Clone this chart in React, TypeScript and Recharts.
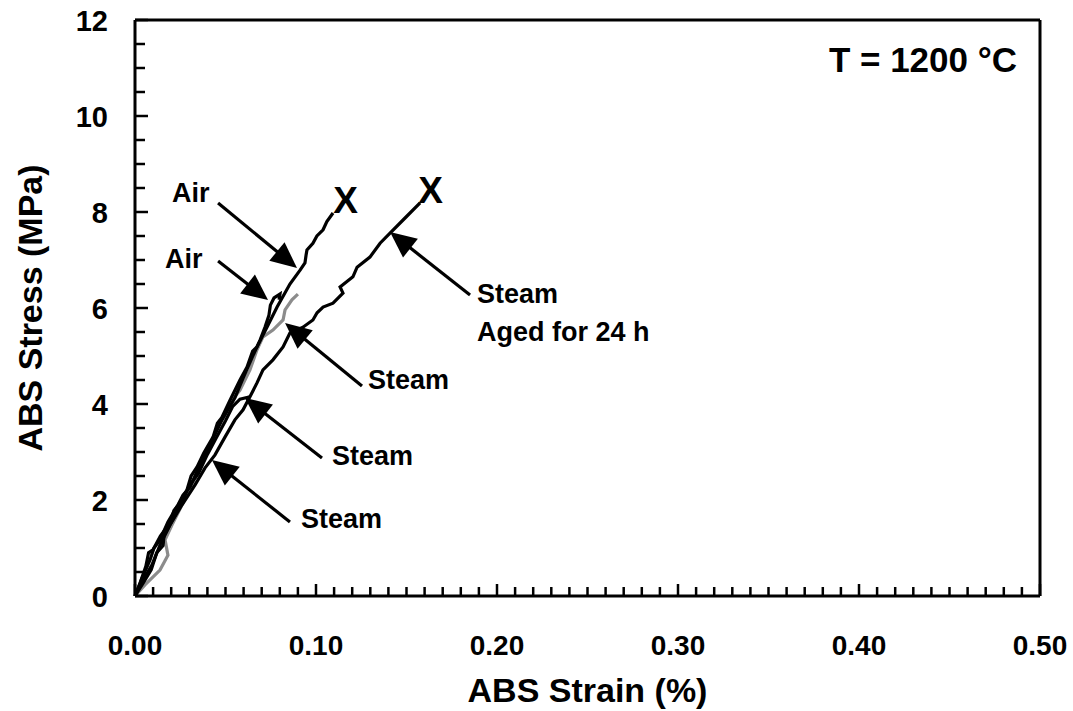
import React from 'react';
import { LineChart, Line, XAxis, YAxis, ReferenceLine, ReferenceDot } from 'recharts';

// Stress–strain curves, [strain (%), stress (MPa)]
const airA: number[][] = [
  [0, 0], [0.0028, 0.27], [0.006, 0.62], [0.0075, 0.9], [0.0099, 0.96], [0.014, 1.25], [0.0193, 1.52],
  [0.0215, 1.78], [0.024, 1.9], [0.0287, 2.21], [0.031, 2.5], [0.0343, 2.69], [0.038, 2.98], [0.0431, 3.31],
  [0.0455, 3.6], [0.048, 3.72], [0.0525, 4.08], [0.058, 4.5], [0.0619, 4.77], [0.065, 5.1], [0.0674, 5.19],
  [0.0729, 5.6], [0.0785, 6.02], [0.0856, 6.5], [0.0912, 6.79], [0.0939, 6.94], [0.0945, 7.1],
  [0.095, 7.21], [0.0983, 7.35], [0.1005, 7.5], [0.1039, 7.63], [0.106, 7.8], [0.1094, 7.98],
];

const airB: number[][] = [
  [0, 0], [0.0039, 0.375], [0.0083, 0.75], [0.0105, 1.0], [0.0138, 1.17], [0.0182, 1.54], [0.0238, 1.9],
  [0.0265, 2.1], [0.0304, 2.27], [0.0359, 2.73], [0.0414, 3.15], [0.0481, 3.67], [0.0552, 4.13],
  [0.0597, 4.54], [0.0646, 4.96], [0.0691, 5.33], [0.0718, 5.6], [0.074, 5.85], [0.0748, 6.06],
  [0.0768, 6.21], [0.0801, 6.29], [0.0796, 6.17],
];

const steamGray: number[][] = [
  [0, 0], [0.0055, 0.23], [0.0138, 0.54], [0.0182, 0.85], [0.0166, 1.17], [0.0204, 1.48],
  [0.026, 1.9], [0.0315, 2.31], [0.0376, 2.83], [0.0431, 3.29], [0.0481, 3.71], [0.0536, 4.08],
  [0.058, 4.29], [0.0635, 4.71], [0.0674, 5.13], [0.0707, 5.4], [0.0762, 5.54], [0.0818, 5.75],
  [0.0829, 5.96], [0.0867, 6.17], [0.09, 6.29],
];

const steamBlack: number[][] = [
  [0, 0], [0.005, 0.3], [0.009, 0.55], [0.012, 0.9], [0.0155, 1.05], [0.016, 1.25], [0.021, 1.6],
  [0.026, 1.95], [0.03, 2.3], [0.035, 2.55], [0.04, 2.95], [0.045, 3.3], [0.05, 3.65],
  [0.054, 3.95], [0.058, 4.1], [0.0635, 4.15],
];

const steamAged: number[][] = [
  [0, 0], [0.0044, 0.33], [0.0094, 0.65], [0.0138, 1.06], [0.0193, 1.48], [0.026, 1.9],
  [0.0331, 2.31], [0.0387, 2.67], [0.0442, 2.94], [0.0497, 3.31], [0.0552, 3.67], [0.0597, 3.88],
  [0.0635, 4.15], [0.0674, 4.44], [0.0707, 4.71], [0.0762, 4.92], [0.0818, 5.19], [0.0856, 5.48],
  [0.0928, 5.6], [0.0983, 5.75], [0.1006, 5.9], [0.1039, 6.02], [0.1094, 6.1], [0.1149, 6.31],
  [0.1133, 6.44], [0.1204, 6.65], [0.1227, 6.85], [0.1298, 7.06], [0.1354, 7.35], [0.1409, 7.56],
  [0.1492, 7.875], [0.1575, 8.19],
];

// Failure markers
const failures: number[][] = [
  [0.1163, 8.25],
  [0.1633, 8.458],
];

// Annotation texts: [strain, stress, text]
const notes: [number, number, string][] = [
  [0.0204, 8.208, 'Air'],
  [0.0166, 6.833, 'Air'],
  [0.1287, 4.3125, 'Steam'],
  [0.1088, 2.729, 'Steam'],
  [0.0917, 1.417, 'Steam'],
  [0.189, 6.104, 'Steam'],
  [0.189, 5.3125, 'Aged for 24 h'],
];

// Arrows: [fromStrain, fromStress, tipStrain, tipStress]
const arrows: number[][] = [
  [0.0459, 8.1875, 0.0895, 6.833],
  [0.0459, 6.979, 0.0735, 6.167],
  [0.1254, 4.375, 0.0829, 5.6875],
  [0.1033, 2.875, 0.0608, 4.125],
  [0.0856, 1.542, 0.0425, 2.833],
  [0.1851, 6.271, 0.1409, 7.583],
];

const temperatureNote = { x: 0.4873, y: 10.917, text: 'T = 1200 °C' };

const xTicks: number[] = Array.from({ length: 51 }, (_, i) => i / 100);
const yTicks: number[] = Array.from({ length: 25 }, (_, i) => i / 2);

const FONT = '"Liberation Sans", Arial, Helvetica, sans-serif';

const toPts = (arr: number[][]) => arr.map(([x, y]) => ({ x, y }));

const XTick = (props: any) => {
  const { x, y, payload } = props;
  const v = payload.value as number;
  const major = Math.round(v * 100) % 10 === 0;
  return (
    <g>
      <line x1={x} x2={x} y1={y} y2={y - (major ? 12 : 9)} stroke="#000" strokeWidth={2.5} />
      {major && (
        <text x={x} y={y + 59} textAnchor="middle" fontFamily={FONT} fontWeight="bold" fontSize={28} fill="#000">
          {v.toFixed(2)}
        </text>
      )}
    </g>
  );
};

const YTick = (props: any) => {
  const { x, y, payload } = props;
  const v = payload.value as number;
  const major = Math.round(v * 2) % 4 === 0;
  return (
    <g>
      <line x1={x} x2={x + (major ? 13 : 10)} y1={y} y2={y} stroke="#000" strokeWidth={2.5} />
      {major && (
        <text x={x - 27} y={y + 11} textAnchor="end" fontFamily={FONT} fontWeight="bold" fontSize={29} fill="#000">
          {v}
        </text>
      )}
    </g>
  );
};

const Arrow = (props: any) => {
  const { x1, y1, x2, y2 } = props;
  const dx = x2 - x1;
  const dy = y2 - y1;
  const len = Math.sqrt(dx * dx + dy * dy) || 1;
  const ux = dx / len;
  const uy = dy / len;
  const headLen = 26;
  const halfW = 12;
  const bx = x2 - ux * headLen;
  const by = y2 - uy * headLen;
  const px = -uy;
  const py = ux;
  return (
    <g>
      <line x1={x1} y1={y1} x2={bx + ux * 2} y2={by + uy * 2} stroke="#000" strokeWidth={3.2} />
      <polygon
        points={`${x2},${y2} ${bx + px * halfW},${by + py * halfW} ${bx - px * halfW},${by - py * halfW}`}
        fill="#000"
      />
    </g>
  );
};

const CURVE_W = 3.2;

export default function App() {
  return (
    <div style={{ position: 'absolute', left: 0, top: 0, background: '#fff' }}>
      <LineChart width={1073} height={711} margin={{ top: 20, right: 33, bottom: 0, left: 0 }}>
        <XAxis
          type="number"
          dataKey="x"
          domain={[0, 0.5]}
          ticks={xTicks}
          interval={0}
          tick={<XTick />}
          tickLine={false}
          tickSize={0}
          tickMargin={0}
          height={115}
          axisLine={{ stroke: '#000', strokeWidth: 3 }}
          allowDecimals
          label={{
            content: (p: any) => {
              const vb = p.viewBox;
              return (
                <text x={vb.x + vb.width / 2} y={702} textAnchor="middle" fontFamily={FONT} fontWeight="bold" fontSize={34} fill="#000">
                  ABS Strain (%)
                </text>
              );
            },
          }}
        />
        <YAxis
          type="number"
          domain={[0, 12]}
          ticks={yTicks}
          interval={0}
          tick={<YTick />}
          tickLine={false}
          tickSize={0}
          tickMargin={0}
          width={135}
          axisLine={{ stroke: '#000', strokeWidth: 3 }}
          label={{
            content: (p: any) => {
              const vb = p.viewBox;
              const cy = vb.y + vb.height / 2;
              return (
                <text transform={`translate(42, ${cy}) rotate(-90)`} textAnchor="middle" fontFamily={FONT} fontWeight="bold" fontSize={34} fill="#000">
                  ABS Stress (MPa)
                </text>
              );
            },
          }}
        />
        <ReferenceLine y={12} stroke="#000" strokeWidth={3} />
        <ReferenceLine x={0.5} stroke="#000" strokeWidth={3} />

        <Line data={toPts(steamGray)} dataKey="y" type="linear" stroke="#8c8c8c" strokeWidth={CURVE_W} dot={false} isAnimationActive={false} />
        <Line data={toPts(steamBlack)} dataKey="y" type="linear" stroke="#000" strokeWidth={CURVE_W} dot={false} isAnimationActive={false} />
        <Line data={toPts(airB)} dataKey="y" type="linear" stroke="#000" strokeWidth={CURVE_W} dot={false} isAnimationActive={false} />
        <Line data={toPts(airA)} dataKey="y" type="linear" stroke="#000" strokeWidth={CURVE_W} dot={false} isAnimationActive={false} />
        <Line data={toPts(steamAged)} dataKey="y" type="linear" stroke="#000" strokeWidth={CURVE_W} dot={false} isAnimationActive={false} />

        {failures.map(([x, y], i) => (
          <ReferenceDot
            key={`f${i}`}
            x={x}
            y={y}
            r={1}
            shape={(p: any) => (
              <text x={p.cx} y={p.cy + 13} textAnchor="middle" fontFamily={FONT} fontWeight="bold" fontSize={37} fill="#000">
                X
              </text>
            )}
          />
        ))}

        {arrows.map(([x1, y1, x2, y2], i) => (
          <ReferenceLine
            key={`a${i}`}
            segment={[{ x: x1, y: y1 }, { x: x2, y: y2 }]}
            shape={(p: any) => <Arrow {...p} />}
          />
        ))}

        {notes.map(([x, y, t], i) => (
          <ReferenceDot
            key={`n${i}`}
            x={x}
            y={y}
            r={1}
            shape={(p: any) => (
              <text x={p.cx} y={p.cy} textAnchor="start" fontFamily={FONT} fontWeight="bold" fontSize={27} fill="#000">
                {t}
              </text>
            )}
          />
        ))}

        <ReferenceDot
          x={temperatureNote.x}
          y={temperatureNote.y}
          r={1}
          shape={(p: any) => (
            <text x={p.cx} y={p.cy} textAnchor="end" fontFamily={FONT} fontWeight="bold" fontSize={35} fill="#000">
              {temperatureNote.text}
            </text>
          )}
        />
      </LineChart>
    </div>
  );
}
